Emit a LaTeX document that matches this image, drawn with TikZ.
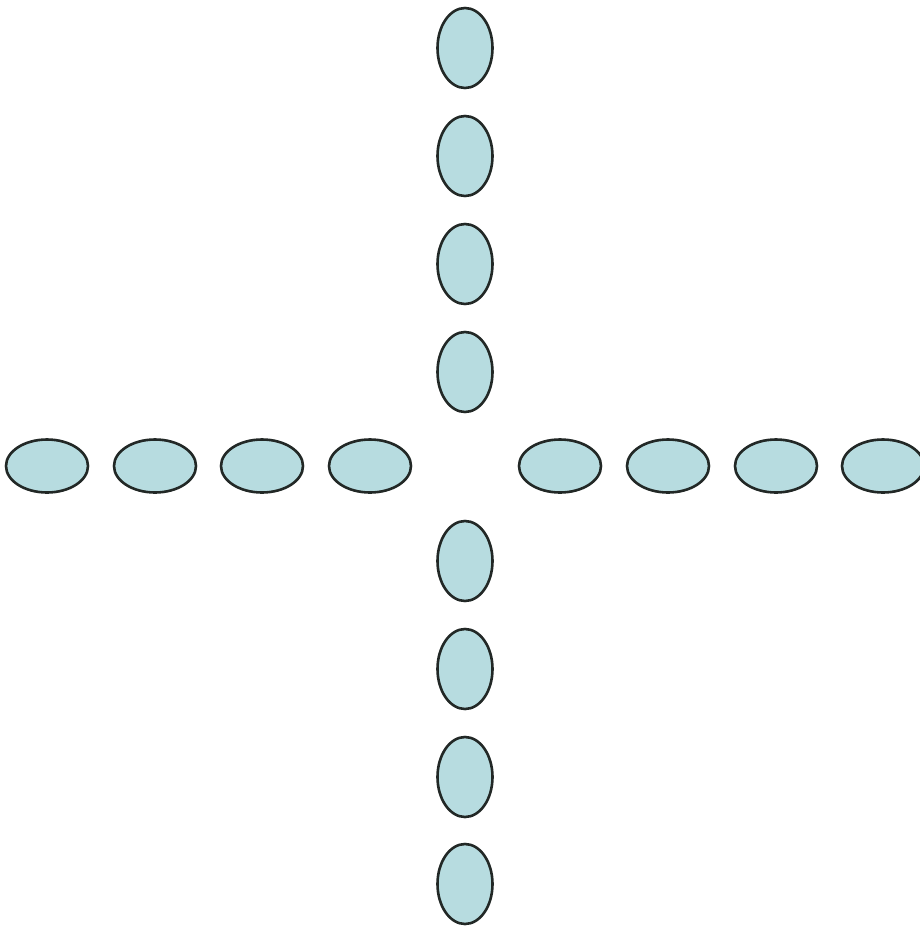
\documentclass[tikz,border=0pt]{standalone}
\usetikzlibrary{shapes.geometric}
\definecolor{petal}{HTML}{B7DCE0}
\definecolor{rim}{HTML}{222826}
\tikzset{
  vpetal/.style={ellipse, draw=rim, fill=petal, line width=2.6pt, inner sep=0pt,
                 minimum width=55pt, minimum height=80pt},
  hpetal/.style={ellipse, draw=rim, fill=petal, line width=2.6pt, inner sep=0pt,
                 minimum width=82pt, minimum height=53pt}
}
\begin{document}
\begin{tikzpicture}[x=1pt,y=-1pt]
\useasboundingbox (0,0) rectangle (920,927);
% vertical arm
\foreach \yy/\nm in {48/v1,156/v2,264/v3,372/v4,561/v5,669/v6,777/v7,884/v8}
  \node[vpetal] (\nm) at (465,\yy) {};
% horizontal arm
\foreach \xx/\nm in {47/h1,155/h2,262/h3,370/h4,560/h5,668/h6,776/h7,883/h8}
  \node[hpetal] (\nm) at (\xx,466) {};
\end{tikzpicture}
\end{document}
